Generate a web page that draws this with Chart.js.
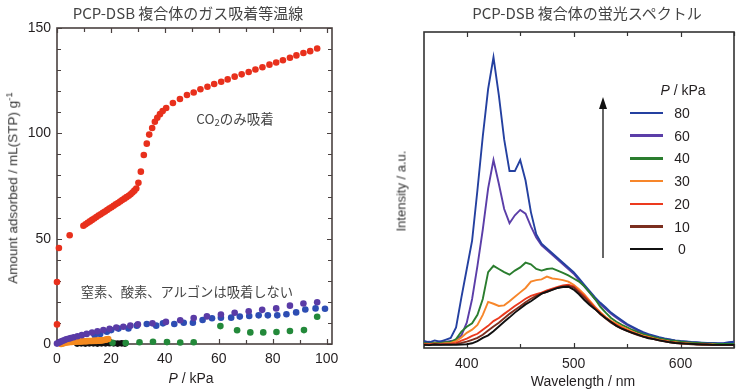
<!DOCTYPE html>
<html>
<head>
<meta charset="utf-8">
<script src="https://cdn.jsdelivr.net/npm/chart.js@4.4.1/dist/chart.umd.min.js"></script>
<style>
  body { margin: 0; background: #fff; }
  #wrap { position: relative; width: 742px; height: 391px; overflow: hidden;
          font-family: 'Liberation Sans', Arial, sans-serif; color: #231f20; }
  canvas { position: absolute; top: 0; }
  .t { position: absolute; white-space: nowrap; transform: translate(-50%, -50%); line-height: 1; }
  .jp { font-family: 'Noto Sans CJK JP', sans-serif; color: #444; }
  .rot { transform: translate(-50%, -50%) rotate(-90deg); color: #333; }
  .leg { position: absolute; left: 630px; width: 33px; height: 2.5px; }
  sup { font-size: 70%; vertical-align: 5px; }
  sub { font-size: 70%; vertical-align: -2px; }
</style>
</head>
<body>
<div id="wrap">
  <canvas id="isotherm" width="370" height="391" style="left:0"></canvas>
  <canvas id="spectra" width="372" height="391" style="left:370px"></canvas>

  <div class="t jp" style="left:188px;top:12px;font-size:15px">PCP-DSB 複合体のガス吸着等温線</div>
  <div class="t rot" style="left:12px;top:188px;font-size:13.5px">Amount adsorbed / mL(STP) g<sup>-1</sup></div>
  <div class="t" style="left:191px;top:378px;font-size:14px"><i>P</i> / kPa</div>
  <div class="t jp" style="left:235px;top:120px;font-size:13.5px">CO<sub>2</sub>のみ吸着</div>
  <div class="t jp" style="left:187px;top:292px;font-size:13.3px">窒素、酸素、アルゴンは吸着しない</div>

  <div class="t jp" style="left:587px;top:12px;font-size:15px">PCP-DSB 複合体の蛍光スペクトル</div>
  <div class="t rot" style="left:401px;top:191px;font-size:13px">Intensity / a.u.</div>
  <div class="t" style="left:583px;top:381px;font-size:14px">Wavelength / nm</div>
  <div class="t" style="left:683px;top:90px;font-size:14px"><i>P</i> / kPa</div>
  <div id="legend"></div>
  <svg style="position:absolute;left:0;top:0" width="742" height="391">
    <line x1="603" y1="258" x2="603" y2="108" stroke="#333" stroke-width="1.5"/>
    <polygon points="603,97 599,109 607,109" fill="#111"/>
  </svg>
</div>

<script>
// --- left: gas adsorption isotherms (P / kPa, amount / mL(STP) g-1) ---
const co2P = [0, 0, 0.7, 4.7, 9.8, 10.6, 11.4, 12.2, 13.0, 13.8, 14.6, 15.4, 16.2, 17.0, 17.8, 18.6,
  19.4, 20.2, 21.0, 21.8, 22.6, 23.4, 24.2, 25.0, 25.8, 26.6, 27.3, 28.0, 28.7, 29.4, 30.2, 31.1,
  32.2, 33.3, 34.2, 35.3, 36.3, 37.2, 38.2, 39.2, 40.5, 43.0, 45.6, 48.2, 50.7, 53.2, 55.8, 58.3,
  60.9, 63.3, 65.9, 68.5, 71.1, 73.6, 76.2, 78.8, 81.3, 83.8, 86.4, 88.8, 91.4, 93.9, 96.5];
const co2V = [9.3, 29.4, 45.6, 51.6, 56.1, 56.8, 57.5, 58.2, 58.9, 59.6, 60.3, 61.0, 61.6, 62.3, 62.9, 63.6,
  64.3, 64.9, 65.6, 66.3, 66.9, 67.6, 68.3, 69.0, 69.7, 70.4, 71.1, 71.9, 72.8, 73.8, 76.5, 81.8,
  89.7, 95.1, 99.4, 102.5, 105.5, 107.4, 109.1, 110.6, 112.0, 114.4, 116.3, 118.2, 119.4, 120.9, 122.1, 123.4,
  124.5, 125.6, 126.9, 128.0, 129.1, 130.3, 131.4, 132.6, 133.6, 134.7, 135.9, 137.0, 138.1, 139.0, 140.3];

const purpleP = [0, 0.6, 1.2, 1.9, 2.6, 3.4, 4.2, 5.1, 6.2, 7.6, 9.2, 11, 13, 15, 17.2, 19.5, 22, 24.6,
  27.2, 30, 35.4, 40.4, 45.7, 50.7, 55.6, 60.8, 65.9, 71.1, 76.1, 81.3, 86.4, 91.4, 96.5];
const purpleV = [0.2, 0.6, 1.0, 1.4, 1.8, 2.2, 2.5, 2.8, 3.2, 3.7, 4.2, 4.8, 5.4, 6.0, 6.6, 7.2, 7.8, 8.2,
  8.7, 9.3, 9.8, 10.5, 11.3, 12.3, 13.1, 14.0, 14.8, 15.5, 16.2, 16.9, 18.2, 19.2, 19.8];

const blueP = [14, 16, 18.5, 20.1, 22.8, 26.5, 29.6, 33.3, 36.8, 39.3, 43.5, 47, 50.4, 54, 57.5, 60.8,
  64.6, 67.8, 71.3, 74.8, 78.2, 81.7, 85.1, 88.7, 92.1, 95.9, 99.4];
const blueV = [4.2, 4.7, 5.8, 6.6, 7.3, 7.4, 8.7, 9.5, 8.7, 9.8, 9.5, 10.1, 10.1, 11.4, 12.2, 12.5,
  12.5, 13.0, 13.3, 13.6, 13.6, 13.6, 14.1, 15.0, 16.4, 16.9, 16.7];

const greenP = [20.6, 25.5, 30.6, 35.6, 40.8, 45.7, 50.7, 60.6, 66.8, 71.7, 76.5, 81.4, 86.4, 91.6, 96.5];
const greenV = [0.6, 0.5, 0.8, 1.1, 0.9, 0.7, 0.8, 8.5, 6.5, 5.5, 5.5, 5.7, 6.2, 6.6, 12.9];

const orangeP = [1.5, 2, 2.5, 3, 3.5, 4, 4.5, 5, 5.5, 6, 6.5, 7, 7.5, 8, 8.5, 9, 9.5, 10, 10.5, 11,
  11.5, 12, 12.5, 13, 13.5, 14, 14.5, 15, 15.5, 16, 16.5, 17, 17.5, 18, 18.5, 19];
const orangeV = [0, 0.2, 0.4, 0.6, 0.7, 0.8, 0.9, 1.0, 1.0, 1.1, 1.1, 1.1, 1.2, 1.2, 1.2, 1.2, 1.3, 1.3,
  1.3, 1.3, 1.4, 1.4, 1.4, 1.4, 1.5, 1.5, 1.5, 1.6, 1.6, 1.7, 1.7, 1.8, 1.9, 2.0, 2.2, 2.4];

const blackP = [7.5, 9, 10.5, 12, 13.5, 15, 16.5, 18, 19.5, 21, 22.5, 24, 25.2];
const blackV = [0.2, 0.3, 0.2, 0.3, 0.3, 0.2, 0.3, 0.3, 0.4, 0.3, 0.2, 0.3, 0.2];

// --- right: fluorescence spectra (wavelength / nm, intensity / a.u.) ---
const wavelengths = [360, 365, 370, 375, 380, 385, 390, 395, 400, 405,
  410, 415, 420, 425, 430, 435, 440, 445, 450, 455,
  460, 465, 470, 475, 480, 485, 490, 495, 500, 505,
  510, 515, 520, 525, 530, 535, 540, 545, 550, 555,
  560, 565, 570, 575, 580, 585, 590, 595, 600, 605,
  610, 615, 620, 625, 630, 635, 640, 645, 650];
const int80 = [2.2, 1.8, 2.4, 2.0, 2.6, 3.2, 6.5, 16, 25, 34,
  50, 67, 82, 92, 80, 66, 56, 56, 59.5, 53,
  43, 36, 33, 31.5, 30, 28.5, 27, 25.5, 24, 22,
  20, 18, 16, 14.3, 12.8, 11.2, 10, 8.8, 7.6, 6.7,
  5.8, 5, 4.4, 3.9, 3.4, 3, 2.7, 2.4, 2.2, 2.1,
  1.9, 1.8, 1.7, 1.6, 1.6, 1.5, 1.5, 1.8, 2];
const int60 = [1.8, 2.0, 1.6, 2.1, 1.9, 2.2, 2.4, 4, 8, 15.5,
  26, 37.5, 50.5, 59.5, 52, 44, 39.5, 42, 43.7, 42.5,
  38.5, 35, 32.5, 31, 29.5, 28, 26.5, 25, 23.5, 21.5,
  19.5, 17.5, 15.5, 13.8, 12.3, 10.8, 9.6, 8.4, 7.3, 6.4,
  5.5, 4.8, 4.2, 3.7, 3.2, 2.9, 2.6, 2.3, 2.1, 2.0,
  1.8, 1.7, 1.6, 1.5, 1.5, 1.4, 1.4, 1.5, 1.6];
const int40 = [1.6, 1.4, 1.7, 1.5, 1.8, 1.9, 2.8, 5.2, 6.7, 7.8,
  10.5, 15.5, 24, 26, 25, 24, 23.2, 24.5, 25.5, 27,
  26.5, 25, 24.5, 25, 25.2, 24.5, 23.8, 23, 22, 21,
  19.5, 17.5, 15.5, 13, 11.2, 9.5, 8.3, 7.3, 6.5, 5.7,
  5, 4.4, 3.9, 3.4, 3, 2.7, 2.4, 2.2, 2, 1.8,
  1.7, 1.6, 1.5, 1.4, 1.4, 1.3, 1.3, 1.3, 1.3];
const int30 = [1.3, 1.2, 1.4, 1.3, 1.5, 1.6, 2.2, 3.3, 4.8, 5.8,
  7.3, 10.5, 14.6, 14, 13.3, 13.5, 14.8, 16.2, 17.6, 19,
  21, 21.5, 21.7, 22.6, 22, 21.8, 21.5, 21, 20, 18.6,
  17, 15, 13, 11.3, 9.8, 8.6, 7.7, 6.8, 6, 5.2,
  4.5, 3.9, 3.5, 3, 2.6, 2.3, 2, 1.8, 1.6, 1.5,
  1.4, 1.3, 1.2, 1.1, 1.1, 1, 1, 1, 1];
const int20 = [1.2, 1.1, 1.3, 1.2, 1.3, 1.4, 1.6, 2.3, 3, 3.8,
  4.5, 5.8, 7, 8.5, 9.5, 10.8, 12, 13.3, 14.4, 15.6,
  16.5, 17, 17.5, 18.2, 18.8, 19.3, 19.8, 20, 19.5, 18,
  16.5, 14.6, 12.8, 11, 9.6, 8.3, 7.3, 6.4, 5.6, 4.9,
  4.3, 3.7, 3.3, 2.9, 2.5, 2.2, 1.9, 1.7, 1.5, 1.4,
  1.3, 1.2, 1.1, 1.1, 1, 1, 1, 1, 1];
const int10 = [1.1, 1.0, 1.2, 1.1, 1.2, 1.2, 1.3, 1.6, 2, 2.6,
  3.2, 4.2, 5.5, 6.8, 8, 9.4, 10.8, 12, 13.2, 14.5,
  15.6, 16.5, 17.2, 17.8, 18.5, 19, 19.5, 19.6, 19.2, 17.6,
  16, 14.2, 12.4, 10.7, 9.3, 8, 7, 6.1, 5.4, 4.7,
  4.1, 3.6, 3.2, 2.8, 2.4, 2.1, 1.8, 1.6, 1.4, 1.3,
  1.2, 1.1, 1.1, 1, 1, 1, 1, 1, 1];
const int0 = [1, 0.9, 1.1, 1, 1, 1, 1, 1.1, 1.2, 1.5,
  2.2, 3.2, 4, 5.3, 6.8, 8.3, 9.7, 11.2, 12.5, 13.8,
  14.8, 16, 17.2, 17.8, 18.4, 19, 19.3, 19.4, 18.5, 17,
  15.2, 13.6, 12.3, 10.8, 9.4, 8.2, 7, 6.1, 5.4, 4.8,
  4.2, 3.6, 3.1, 2.8, 2.4, 2.1, 1.8, 1.6, 1.5, 1.4,
  1.3, 1.2, 1.1, 1.1, 1, 1, 1, 1, 1];

const pressures = ['80', '60', '40', '30', '20', '10', '0'];
const spectraColors = ['#2440a0', '#5b3ea8', '#2a7d2e', '#f7862a', '#ec3a1e', '#7b2e1f', '#111111'];
const spectra = [int80, int60, int40, int30, int20, int10, int0];

const pts = (xs, ys) => xs.map((x, i) => ({ x: x, y: ys[i] }));

// frame + inward ticks on all sides
const framePlugin = {
  id: 'frame',
  beforeDatasetsDraw(chart, args, o) {
    const { ctx, chartArea: a } = chart;
    const x = chart.scales.x, y = chart.scales.y;
    ctx.save();
    ctx.strokeStyle = o.color;
    ctx.lineWidth = 1.2;
    ctx.beginPath();
    x.ticks.forEach(t => {
      const p = Math.round(x.getPixelForValue(t.value)) + 0.5;
      const len = t.value % o.xMajor === 0 ? 5 : 4;
      ctx.moveTo(p, a.top); ctx.lineTo(p, a.top + len);
      ctx.moveTo(p, a.bottom); ctx.lineTo(p, a.bottom - len);
    });
    if (o.yTicks) {
      y.ticks.forEach(t => {
        const p = Math.round(y.getPixelForValue(t.value)) + 0.5;
        const len = t.value % o.yMajor === 0 ? 5 : 4;
        ctx.moveTo(a.left, p); ctx.lineTo(a.left + len, p);
        ctx.moveTo(a.right, p); ctx.lineTo(a.right - len, p);
      });
    }
    ctx.stroke();
    ctx.lineWidth = 1.6;
    ctx.strokeRect(a.left, a.top, a.right - a.left, a.bottom - a.top);
    ctx.restore();
  }
};

Chart.defaults.font.family = "'Liberation Sans', Arial, sans-serif";
Chart.defaults.color = '#231f20';

const dot = (label, xs, ys, color) => ({
  label: label, data: pts(xs, ys), backgroundColor: color, borderColor: color,
  pointRadius: 3.3, pointBorderWidth: 0, clip: false
});

new Chart(document.getElementById('isotherm'), {
  type: 'scatter',
  data: {
    datasets: [
      dot('CO2', co2P, co2V, '#e8301c'),
      dot('purple', purpleP, purpleV, '#5a3ba6'),
      dot('orange', orangeP, orangeV, '#f58a1f'),
      dot('green', greenP, greenV, '#23893a'),
      dot('black', blackP, blackV, '#111'),
      dot('blue', blueP, blueV, '#2d4db3')
    ]
  },
  options: {
    responsive: false, animation: false, devicePixelRatio: 1,
    layout: { padding: { left: 0, right: 38, top: 28, bottom: 0 } },
    plugins: { legend: { display: false }, tooltip: { enabled: false },
               frame: { color: '#4a4140', xMajor: 20, yMajor: 50, yTicks: true } },
    scales: {
      x: {
        type: 'linear', min: 0, max: 102,
        afterFit: s => { s.height = 47; },
        grid: { display: false, drawTicks: false }, border: { display: false },
        ticks: { stepSize: 10, includeBounds: false, padding: 7, maxRotation: 0, autoSkip: false,
                 font: { size: 14 }, callback: v => (v % 20 === 0 ? v : '') }
      },
      y: {
        min: 0, max: 150,
        afterFit: s => { s.width = 57; },
        grid: { display: false, drawTicks: false }, border: { display: false },
        ticks: { stepSize: 10, padding: 6, autoSkip: false,
                 font: { size: 14 }, callback: v => (v % 50 === 0 ? v : '') }
      }
    }
  },
  plugins: [framePlugin]
});

// draw order: black on top, purple under blue
const drawOrder = [6, 5, 4, 3, 2, 0, 1];
new Chart(document.getElementById('spectra'), {
  type: 'line',
  data: {
    datasets: drawOrder.map(i => ({
      label: pressures[i], data: pts(wavelengths, spectra[i]),
      borderColor: spectraColors[i], borderWidth: 1.9, pointRadius: 0, tension: 0
    }))
  },
  options: {
    responsive: false, animation: false, devicePixelRatio: 1,
    layout: { padding: { left: 0, right: 4, top: 32, bottom: 0 } },
    plugins: { legend: { display: false }, tooltip: { enabled: false },
               frame: { color: '#333', xMajor: 100, yTicks: false } },
    scales: {
      x: {
        type: 'linear', min: 360, max: 650,
        afterFit: s => { s.height = 43; },
        grid: { display: false, drawTicks: false }, border: { display: false },
        ticks: { stepSize: 50, includeBounds: false, padding: 8, maxRotation: 0, autoSkip: false,
                 font: { size: 14 }, callback: v => (v % 100 === 0 ? v : '') }
      },
      y: {
        min: 0, max: 100,
        afterFit: s => { s.width = 54; },
        grid: { display: false, drawTicks: false }, border: { display: false },
        ticks: { display: false }
      }
    }
  },
  plugins: [framePlugin]
});

// legend rows for the spectra
const legend = document.getElementById('legend');
pressures.forEach((p, i) => {
  const yc = 113 + i * 22.7;
  const line = document.createElement('div');
  line.className = 'leg';
  line.style.top = (yc - 1.25) + 'px';
  line.style.background = spectraColors[i];
  legend.appendChild(line);
  const lab = document.createElement('div');
  lab.className = 't';
  lab.style.left = '682px';
  lab.style.top = yc + 'px';
  lab.style.fontSize = '14px';
  lab.textContent = p;
  legend.appendChild(lab);
});
</script>
</body>
</html>
